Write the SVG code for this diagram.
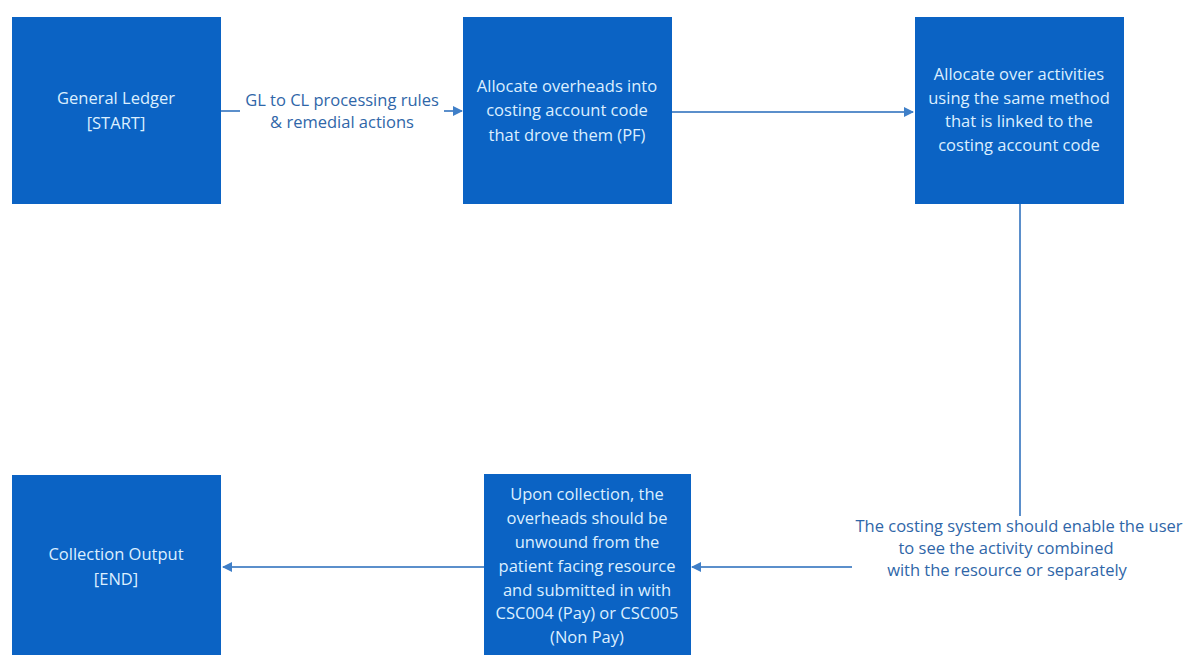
<svg xmlns="http://www.w3.org/2000/svg" width="1189" height="655" viewBox="0 0 1189 655">
  <style>
    .box { fill: #0b63c4; }
    .box-text { font-family: "Open Sans", "Liberation Sans", sans-serif; font-size: 16.5px; fill: #dcefff; text-anchor: middle; }
    .label { font-family: "Open Sans", "Liberation Sans", sans-serif; font-size: 16.5px; fill: #2f66a8; text-anchor: middle; }
    .conn { stroke: #5b8fcb; stroke-width: 2; fill: none; }
  </style>
  <defs>
    <marker id="arrow" viewBox="0 0 10 10" refX="9" refY="5" markerWidth="5" markerHeight="5" orient="auto">
      <path d="M0,0 L10,5 L0,10 z" fill="#3f7fc8"/>
    </marker>
  </defs>
  <rect width="1189" height="655" fill="#ffffff"/>

  <g id="connectors">
    <!-- General Ledger to Allocate overheads -->
    <line class="conn" x1="221" y1="111" x2="240" y2="111"/>
    <line class="conn" x1="444" y1="111" x2="462" y2="111" marker-end="url(#arrow)"/>
    <!-- Allocate overheads to Allocate over activities -->
    <line class="conn" x1="672" y1="112" x2="913" y2="112" marker-end="url(#arrow)"/>
    <!-- Allocate over activities down to costing system note -->
    <line class="conn" x1="1020" y1="204" x2="1020" y2="516"/>
    <!-- Note to Upon collection -->
    <line class="conn" x1="852" y1="567" x2="692" y2="567" marker-end="url(#arrow)"/>
    <!-- Upon collection to Collection Output -->
    <line class="conn" x1="484" y1="567" x2="223" y2="567" marker-end="url(#arrow)"/>
    <text class="label" x="342" y="106">GL to CL processing rules</text>
    <text class="label" x="342" y="128">&amp; remedial actions</text>
    <text class="label" x="1019" y="532">The costing system  should enable the user</text>
    <text class="label" x="1006" y="554">to see the activity combined</text>
    <text class="label" x="1007" y="576">with the resource or separately</text>
  </g>

  <g id="general-ledger">
    <rect class="box" x="12" y="17" width="209" height="187"/>
    <text class="box-text" x="116" y="104">General Ledger</text>
    <text class="box-text" x="116" y="129">[START]</text>
  </g>

  <g id="allocate-overheads">
    <rect class="box" x="463" y="17" width="209" height="187"/>
    <text class="box-text" x="567" y="92">Allocate overheads into</text>
    <text class="box-text" x="567" y="116">costing account code</text>
    <text class="box-text" x="567" y="141">that drove them (PF)</text>
  </g>

  <g id="allocate-activities">
    <rect class="box" x="915" y="17" width="209" height="187"/>
    <text class="box-text" x="1019" y="80">Allocate over activities</text>
    <text class="box-text" x="1019" y="104">using the same method</text>
    <text class="box-text" x="1019" y="127">that is linked to the</text>
    <text class="box-text" x="1019" y="151">costing account code</text>
  </g>

  <g id="upon-collection">
    <rect class="box" x="484" y="474" width="207" height="181"/>
    <text class="box-text" x="587" y="500">Upon collection, the</text>
    <text class="box-text" x="587" y="524">overheads should be</text>
    <text class="box-text" x="587" y="548">unwound from the</text>
    <text class="box-text" x="587" y="572">patient facing resource</text>
    <text class="box-text" x="587" y="596">and submitted in with</text>
    <text class="box-text" x="587" y="619">CSC004 (Pay) or CSC005</text>
    <text class="box-text" x="587" y="643">(Non Pay)</text>
  </g>

  <g id="collection-output">
    <rect class="box" x="12" y="475" width="209" height="180"/>
    <text class="box-text" x="116" y="560">Collection Output</text>
    <text class="box-text" x="116" y="585">[END]</text>
  </g>
</svg>
